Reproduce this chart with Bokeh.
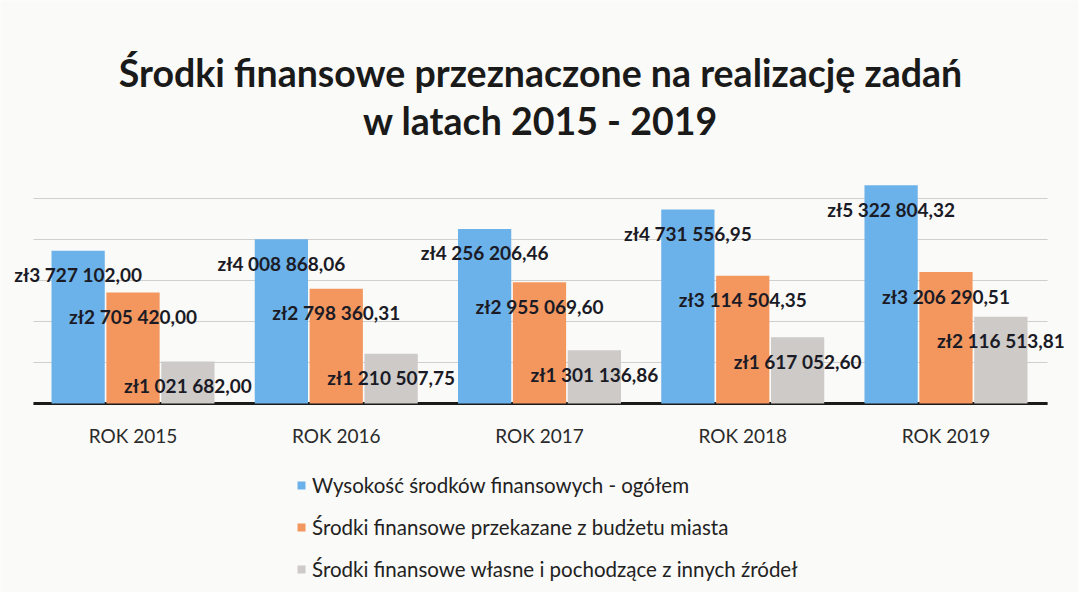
from bokeh.plotting import figure
from bokeh.models import (ColumnDataSource, FactorRange, Range1d, Legend, LegendItem, Label)
from bokeh.transform import dodge
from bokeh.core.properties import value
from bokeh.embed import file_html
from bokeh.resources import INLINE

years = ["ROK 2015", "ROK 2016", "ROK 2017", "ROK 2018", "ROK 2019"]
total = [3727102.00, 4008868.06, 4256206.46, 4731556.95, 5322804.32]
city = [2705420.00, 2798360.31, 2955069.60, 3114504.35, 3206290.51]
own = [1021682.00, 1210507.75, 1301136.86, 1617052.60, 2116513.81]
labels_total = ["zł3 727 102,00", "zł4 008 868,06", "zł4 256 206,46", "zł4 731 556,95", "zł5 322 804,32"]
labels_city = ["zł2 705 420,00", "zł2 798 360,31", "zł2 955 069,60", "zł3 114 504,35", "zł3 206 290,51"]
labels_own = ["zł1 021 682,00", "zł1 210 507,75", "zł1 301 136,86", "zł1 617 052,60", "zł2 116 513,81"]
series_names = ["Wysokość środków finansowych - ogółem",
                "Środki finansowe przekazane z budżetu miasta",
                "Środki finansowe własne i pochodzące z innych źródeł"]
title_lines = ["Środki finansowe przeznaczone na realizację zadań", "w latach 2015 - 2019"]
grid_values = [0, 1000000, 2000000, 3000000, 4000000, 5000000]

colors = ["#6cb2ea", "#f3975f", "#cdcac8"]

W, H = 1078, 592
src = ColumnDataSource(dict(x=years, total=total, city=city, own=own,
                            lt=labels_total, lc=labels_city, lo=labels_own,
                            base=[0] * len(years)))

# frame covers the whole canvas; the value axis is scaled so that 0 sits at the baseline
px_per_unit = 41.0 / 1000000
base_px = 403
y_end = base_px / px_per_unit
y_start = -(H - base_px) / px_per_unit

p = figure(x_range=FactorRange(*years, range_padding=0.0608),
           y_range=Range1d(y_start, y_end),
           width=W, height=H, output_backend="svg", toolbar_location=None,
           min_border=0)
p.background_fill_color = "#fafaf8"
p.border_fill_color = "#fafaf8"
p.outline_line_color = None
p.xaxis.visible = False
p.yaxis.visible = False
p.xgrid.grid_line_color = None
p.ygrid.grid_line_color = None

# horizontal gridlines and baseline
gsrc = ColumnDataSource(dict(y=grid_values[1:], a=[years[0]] * 5, b=[years[-1]] * 5))
p.segment(x0=dodge("a", -0.49, range=p.x_range), x1=dodge("b", 0.5, range=p.x_range),
          y0="y", y1="y", source=gsrc, line_color="#cfcfcf", line_width=1)
bsrc = ColumnDataSource(dict(y=grid_values[:1], a=[years[0]], b=[years[-1]]))
p.segment(x0=dodge("a", -0.49, range=p.x_range), x1=dodge("b", 0.5, range=p.x_range),
          y0="y", y1="y", source=bsrc, line_color="#1a1a1a", line_width=3)

off = 0.27
w = 0.262
r1 = p.vbar(x=dodge("x", -off, range=p.x_range), top="total", bottom="base", width=w, source=src,
            fill_color=colors[0], line_color=None)
r2 = p.vbar(x=dodge("x", 0, range=p.x_range), top="city", bottom="base", width=w, source=src,
            fill_color=colors[1], line_color=None)
r3 = p.vbar(x=dodge("x", off, range=p.x_range), top="own", bottom="base", width=w, source=src,
            fill_color=colors[2], line_color=None)

lab_kw = dict(source=src, text_font=value("Lato"), text_font_style="bold",
              text_font_size="19px", text_color="#1b1b26", text_align="center",
              text_baseline="middle", y_offset=24)
p.text(x=dodge("x", -off, range=p.x_range), y="total", text="lt", **lab_kw)
p.text(x=dodge("x", 0, range=p.x_range), y="city", text="lc", **lab_kw)
p.text(x=dodge("x", off, range=p.x_range), y="own", text="lo", **lab_kw)

# category labels
p.text(x="x", y="base", text="x", source=src, text_font=value("Lato"),
       text_font_size="19px", text_color="#2a2a2a", text_align="center",
       text_baseline="middle", y_offset=32)

legend = Legend(items=[LegendItem(label=series_names[0], renderers=[r1]),
                       LegendItem(label=series_names[1], renderers=[r2]),
                       LegendItem(label=series_names[2], renderers=[r3])],
                orientation="vertical", location=(296, 11),
                label_text_font="Lato", label_text_font_size="20.5px", label_text_color="#222222",
                glyph_width=10, glyph_height=10, label_height=24, spacing=18,
                background_fill_alpha=0, border_line_color=None, padding=0, margin=0,
                label_standoff=6)
p.add_layout(legend, "center")

p.add_layout(Label(x=540, y=H - 72, x_units="screen", y_units="screen", text=title_lines[0],
                   text_align="center", text_baseline="middle", text_font="Lato",
                   text_font_size="37.5px", text_font_style="bold", text_color="#1a1a1a"))
p.add_layout(Label(x=540, y=H - 120, x_units="screen", y_units="screen", text=title_lines[1],
                   text_align="center", text_baseline="middle", text_font="Lato",
                   text_font_size="37.5px", text_font_style="bold", text_color="#1a1a1a"))

open("out.html", "w").write(file_html(p, INLINE))
